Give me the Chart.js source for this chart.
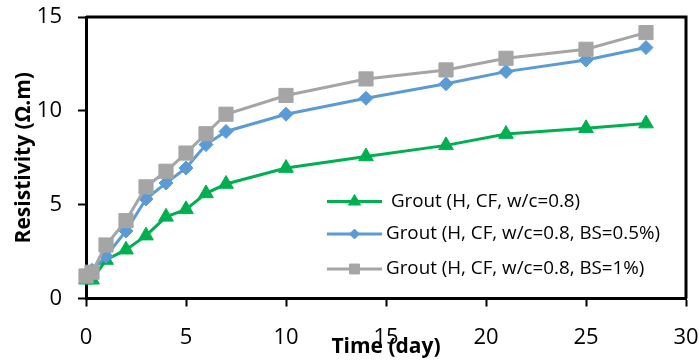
<!DOCTYPE html>
<html>
<head>
<meta charset="utf-8">
<script src="https://cdn.jsdelivr.net/npm/chart.js@4.4.0/dist/chart.umd.min.js"></script>
<style>
  html, body { margin: 0; padding: 0; background: #ffffff; }
  #wrap { width: 699px; height: 360px; position: relative; }
</style>
</head>
<body>
<div id="wrap"><canvas id="c" width="699" height="360"></canvas></div>
<script>
// ---- data ----
const days = [0, 0.3, 1, 2, 3, 4, 5, 6, 7, 10, 14, 18, 21, 25, 28];
const groutBase = [1.0, 1.0, 2.05, 2.6, 3.35, 4.35, 4.75, 5.6, 6.1, 6.95, 7.57, 8.16, 8.76, 9.07, 9.32];
const groutBS05 = [1.15, 1.5, 2.25, 3.6, 5.3, 6.15, 6.95, 8.2, 8.9, 9.82, 10.67, 11.44, 12.09, 12.71, 13.37];
const groutBS1  = [1.2, 1.4, 2.85, 4.15, 5.95, 6.78, 7.75, 8.78, 9.82, 10.82, 11.7, 12.18, 12.8, 13.28, 14.17];
const seriesLabels = [' Grout (H, CF, w/c=0.8)', 'Grout (H, CF, w/c=0.8, BS=0.5%)', 'Grout (H, CF, w/c=0.8, BS=1%)'];
const xTicks = [0, 5, 10, 15, 20, 25, 30];
const yTicks = [0, 5, 10, 15];
const xTitle = 'Time (day)';
const yTitle = 'Resistivity (Ω.m)';

const GREEN = '#00B050', BLUE = '#5B9BD5', GRAY = '#A5A5A5';
const toXY = (arr) => arr.map((v, i) => ({ x: days[i], y: v }));

const legendSpec = [
  { style: 'triangle', r: 7, y: 201.5, textX: 386 },
  { style: 'rectRot', r: 5, y: 234, textX: 386 },
  { style: 'rect', r: 7, y: 269, textX: 386 }
];

const boxPlugin = {
  id: 'boxPlugin',
  afterDraw(chart) {
    const { ctx, chartArea: a } = chart;
    ctx.save();
    ctx.strokeStyle = '#000';
    ctx.lineWidth = 3;
    ctx.beginPath();
    ctx.moveTo(a.left, a.top);
    ctx.lineTo(a.right, a.top);
    ctx.lineTo(a.right, a.bottom);
    ctx.stroke();
    ctx.restore();
  }
};

const legendPlugin = {
  id: 'customLegend',
  afterDraw(chart) {
    const ctx = chart.ctx;
    ctx.save();
    chart.data.datasets.forEach((ds, i) => {
      const spec = legendSpec[i];
      ctx.strokeStyle = ds.borderColor;
      ctx.lineWidth = 3;
      ctx.beginPath();
      ctx.moveTo(327, spec.y);
      ctx.lineTo(382, spec.y);
      ctx.stroke();
      ctx.fillStyle = ds.backgroundColor;
      ctx.strokeStyle = ds.borderColor;
      ctx.lineWidth = 1;
      Chart.helpers.drawPoint(ctx, { pointStyle: spec.style, radius: spec.r, rotation: 0, borderWidth: 1 }, 354.5, spec.y);
      ctx.fillStyle = '#000';
      ctx.font = '18.8px "Open Sans"';
      ctx.textBaseline = 'middle';
      ctx.textAlign = 'left';
      ctx.fillText(ds.label, spec.textX, spec.y);
    });
    ctx.restore();
  }
};

new Chart(document.getElementById('c'), {
  type: 'line',
  data: {
    datasets: [
      { label: seriesLabels[0], data: toXY(groutBase), borderColor: GREEN, backgroundColor: GREEN,
        pointStyle: 'triangle', pointRadius: 8.5, borderWidth: 3, pointBorderWidth: 1, order: 3, clip: false, tension: 0 },
      { label: seriesLabels[1], data: toXY(groutBS05), borderColor: BLUE, backgroundColor: BLUE,
        pointStyle: 'rectRot', pointRadius: 7, borderWidth: 3, pointBorderWidth: 1, order: 2, clip: false, tension: 0 },
      { label: seriesLabels[2], data: toXY(groutBS1), borderColor: GRAY, backgroundColor: GRAY,
        pointStyle: 'rect', pointRadius: 10, borderWidth: 3, pointBorderWidth: 1, order: 1, clip: false, tension: 0 }
    ]
  },
  options: {
    responsive: false,
    animation: false,
    devicePixelRatio: 1,
    layout: { padding: { top: 17, right: 13, left: 0, bottom: 0 } },
    plugins: { legend: { display: false }, tooltip: { enabled: false } },
    scales: {
      x: {
        type: 'linear', min: 0, max: 30,
        afterFit(s) { s.height = 61.5; s.paddingLeft = 0; s.paddingRight = 0; },
        afterBuildTicks(s) { s.ticks = xTicks.map(v => ({ value: v })); },
        grid: { display: true, drawOnChartArea: false, drawTicks: true, tickLength: 8, tickColor: '#000', tickWidth: 2, color: '#000' },
        border: { display: true, color: '#000', width: 3 },
        ticks: { color: '#000', font: { family: 'Open Sans', size: 22 }, padding: 18, maxRotation: 0 },
        title: { display: true, text: xTitle, color: '#000', font: { family: 'Open Sans', size: 21, weight: 'bold', lineHeight: 1 }, padding: { top: 0, bottom: 2 } }
      },
      y: {
        type: 'linear', min: 0, max: 15,
        afterFit(s) { s.width = 86; s.paddingTop = 0; s.paddingBottom = 0; },
        afterBuildTicks(s) { s.ticks = yTicks.map(v => ({ value: v })); },
        grid: { display: true, drawOnChartArea: false, drawTicks: true, tickLength: 8, tickColor: '#000', tickWidth: 2, color: '#000' },
        border: { display: true, color: '#000', width: 3 },
        ticks: { color: '#000', font: { family: 'Open Sans', size: 22 }, padding: 16 },
        title: { display: true, text: yTitle, color: '#000', font: { family: 'Open Sans', size: 21, weight: 'bold', lineHeight: 1 }, padding: { top: 14, bottom: 0 } }
      }
    }
  },
  plugins: [boxPlugin, legendPlugin]
});
</script>
</body>
</html>
